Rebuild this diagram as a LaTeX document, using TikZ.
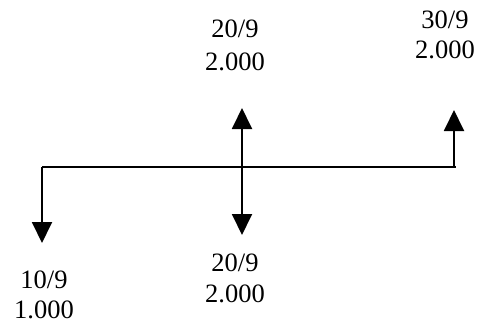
\documentclass[tikz,border=0pt]{standalone}
\usepackage{fontspec}
\setmainfont{Liberation Serif}
\usetikzlibrary{arrows.meta}
\begin{document}
\begin{tikzpicture}[x=1pt,y=-1pt,
  flow/.style={line width=1.9pt,-{Triangle[width=20pt,length=21pt]}},
  axisline/.style={line width=1.9pt},
  lbl/.style={inner sep=0pt,align=center,anchor=base}]
\useasboundingbox (0,0) rectangle (477,324);
\coordinate (L) at (42,167);
\coordinate (R) at (456,167);
\coordinate (M) at (242,167);
\coordinate (Rx) at (454,167);
\coordinate (Ltip) at (42,243);
\coordinate (Mup) at (242,108);
\coordinate (Mdn) at (242,235);
\coordinate (Rtip) at (454,110);
\draw[axisline] (L) -- (R);
\draw[flow] (L) -- (Ltip);
\draw[flow] (M) -- (Mup);
\draw[flow] (M) -- (Mdn);
\draw[flow] (Rx) -- (Rtip);
\node[lbl,font=\fontsize{26.5}{33}\selectfont] (tm) at (235,70) {20/9\\2.000};
\node[lbl,font=\fontsize{26.5}{31}\selectfont] (bm) at (235,302) {20/9\\2.000};
\node[lbl,font=\fontsize{26.5}{30}\selectfont] (bl) at (44,318) {10/9\\1.000};
\node[lbl,font=\fontsize{26.5}{30}\selectfont] (tr) at (445,58) {30/9\\2.000};
\end{tikzpicture}
\end{document}
